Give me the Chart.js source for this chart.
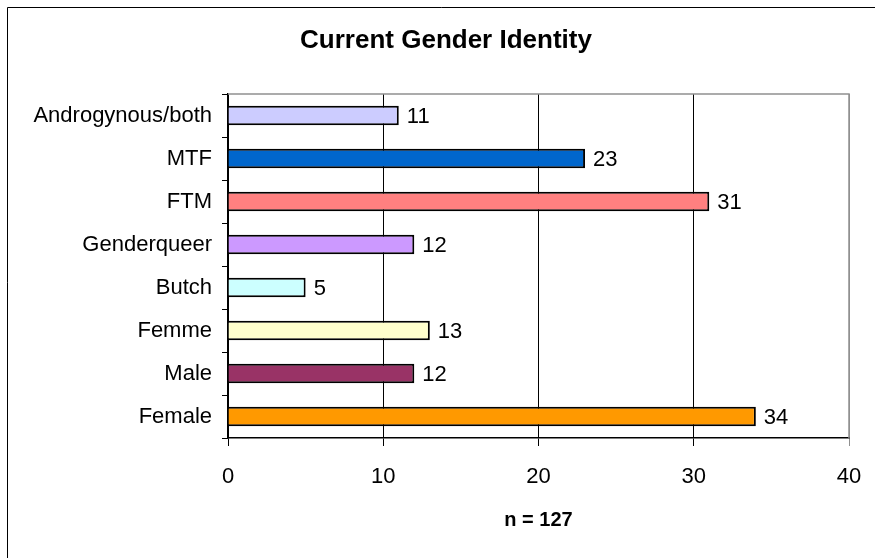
<!DOCTYPE html>
<html>
<head>
<meta charset="utf-8">
<title>Current Gender Identity</title>
<script src="https://cdn.jsdelivr.net/npm/chart.js@4.4.1/dist/chart.umd.min.js"></script>
<style>
  html, body { margin: 0; padding: 0; background: #fff; }
  #wrap { position: relative; width: 875px; height: 558px; }
</style>
</head>
<body>
<div id="wrap"><canvas id="myChart" width="875" height="558"></canvas></div>
<script>
// data
var categories = ["Androgynous/both", "MTF", "FTM", "Genderqueer", "Butch", "Femme", "Male", "Female"];
var counts = [11, 23, 31, 12, 5, 13, 12, 34];
var barColors = ["#CCCCFF", "#0066CC", "#FF8080", "#CC99FF", "#CCFFFF", "#FFFFCC", "#993366", "#FF9900"];
var xTicks = [0, 10, 20, 30, 40];
var chartTitle = "Current Gender Identity";
var xTitle = "n = 127";

(function() {
  "use strict";

  var FONT = "'Liberation Sans', Arial, sans-serif";

  // outer frame, title, top/right plot border (gray)
  var framePlugin = {
    id: "frame",
    beforeDraw: function(chart) {
      var c = chart.ctx;
      c.save();
      c.fillStyle = "#fff";
      c.fillRect(0, 0, chart.width, chart.height);
      c.strokeStyle = "#000";
      c.lineWidth = 1;
      c.beginPath();
      c.moveTo(7.5, chart.height);
      c.lineTo(7.5, 7.5);
      c.lineTo(chart.width, 7.5);
      c.stroke();

      // title sits a bit right of the canvas centre, like the original
      c.font = "bold 26px " + FONT;
      c.fillStyle = "#000";
      c.textAlign = "center";
      c.textBaseline = "middle";
      c.fillText(chartTitle, 446, 41);
      c.restore();
    },
    afterDraw: function(chart) {
      var a = chart.chartArea, c = chart.ctx;
      c.save();
      c.strokeStyle = "#909090";
      c.lineWidth = 1.5;
      c.beginPath();
      c.moveTo(a.left, a.top);
      c.lineTo(a.right, a.top);
      c.lineTo(a.right, a.bottom);
      c.stroke();
      c.restore();
    }
  };

  // numbers at the bar ends
  var valuePlugin = {
    id: "values",
    afterDatasetsDraw: function(chart) {
      var c = chart.ctx;
      var meta = chart.getDatasetMeta(0);
      c.save();
      c.font = "22px " + FONT;
      c.fillStyle = "#000";
      c.textAlign = "left";
      c.textBaseline = "middle";
      meta.data.forEach(function(bar, i) {
        c.fillText(String(counts[i]), bar.x + 8, bar.y + 1);
      });
      c.restore();
    }
  };

  var ctx = document.getElementById("myChart").getContext("2d");

  new Chart(ctx, {
    type: "bar",
    data: {
      labels: categories,
      datasets: [{
        data: counts,
        backgroundColor: barColors,
        borderColor: "#000",
        borderWidth: 2,
        categoryPercentage: 1,
        barPercentage: 0.45
      }]
    },
    options: {
      indexAxis: "y",
      responsive: false,
      animation: false,
      layout: { padding: { left: 0, right: 26, top: 94, bottom: 0 } },
      plugins: {
        legend: { display: false },
        tooltip: { enabled: false },
        title: { display: false }
      },
      scales: {
        x: {
          min: 0,
          max: 40,
          afterBuildTicks: function(scale) {
            scale.ticks = xTicks.map(function(v) { return { value: v }; });
          },
          afterFit: function(scale) {
            scale.height = 120;
            // keep the "40" label from pulling the plot edge in
            scale.paddingLeft = 0;
            scale.paddingRight = 0;
          },
          border: { display: true, color: "#000", width: 1.5 },
          grid: {
            color: function(c) { return c.tick && c.tick.value === 40 ? "#909090" : "#000"; },
            lineWidth: 1,
            tickLength: 8,
            drawTicks: true
          },
          ticks: {
            color: "#000",
            padding: 18,
            font: { family: FONT, size: 22 }
          },
          title: {
            display: true,
            text: xTitle,
            color: "#000",
            font: { family: FONT, size: 20, weight: "bold" },
            padding: { top: 0, bottom: 26 }
          }
        },
        y: {
          afterFit: function(scale) { scale.width = 228; },
          border: { display: true, color: "#000", width: 1.5 },
          grid: {
            drawOnChartArea: false,
            drawTicks: true,
            tickLength: 6,
            color: "#000"
          },
          ticks: {
            color: "#000",
            padding: 10,
            font: { family: FONT, size: 22 }
          }
        }
      }
    },
    plugins: [framePlugin, valuePlugin]
  });
})();
</script>
</body>
</html>
